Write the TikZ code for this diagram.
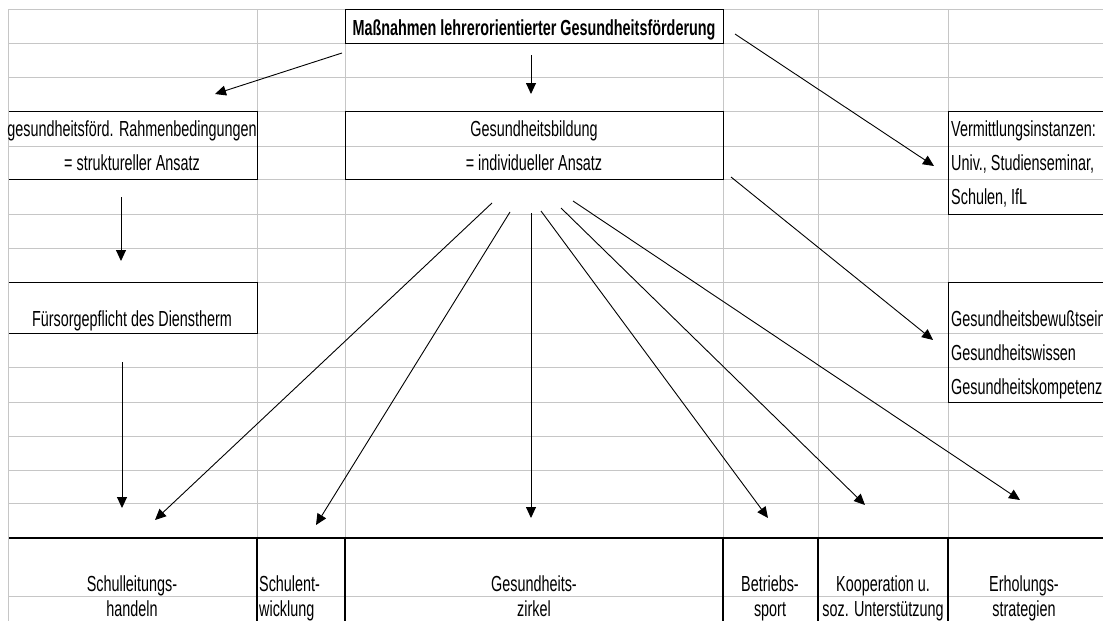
\documentclass[tikz,border=0pt]{standalone}
\usepackage{fontspec}
\setmainfont{Liberation Sans}[FakeStretch=0.66]
\usetikzlibrary{arrows.meta}
\begin{document}
\begin{tikzpicture}[x=1pt,y=-1pt,
  grid/.style={draw=gray!45, line width=0.8pt},
  boxnode/.style={draw=black, line width=1.1pt, inner sep=0pt, anchor=north west},
  txt/.style={inner sep=0pt, anchor=base, font=\fontsize{21.8}{24}\selectfont},
  ltxt/.style={txt, anchor=base west},
  conn/.style={draw=black, line width=0.9pt, -{Triangle[length=11pt,width=10pt]}},
  cellline/.style={draw=black, line width=1.1pt},
]
\clip (0,0) rectangle (1103,621);
\fill[white] (0,0) rectangle (1103,621);
% spreadsheet grid
\foreach \y in {9,43,77,111,146,179,214,248,282,333,367,402,436,470,503,538,596}
  \draw[grid] (8,\y) -- (1103,\y);
\foreach \x in {257,345,723,818,948}
  \draw[grid] (\x,9) -- (\x,621);
% boxes
\node[boxnode, minimum width=378, minimum height=34] (title) at (345,9) {};
\node[boxnode, minimum width=249, minimum height=68] (rahmen) at (8,111) {};
\node[boxnode, minimum width=378, minimum height=68] (bildung) at (345,111) {};
\node[boxnode, minimum width=170, minimum height=103] (vermittl) at (948,111) {};
\node[boxnode, minimum width=249, minimum height=51] (fuersorge) at (8,282) {};
\node[boxnode, minimum width=170, minimum height=120] (kompet) at (948,282) {};
% bottom cells
\draw[black, line width=1.6pt] (8,538) -- (1103,538);
\foreach \x in {257,345,723,818,948}
  \draw[cellline] (\x,538) -- (\x,625);
\draw[grid] (8,9) -- (8,621);
% texts
\node[txt, font=\fontsize{21.8}{24}\selectfont\bfseries] (titletext) at (534,35) {Maßnahmen lehrerorientierter Gesundheitsförderung};
\node[txt] (rahmen1) at (132,136) {gesundheitsförd. Rahmenbedingungen};
\node[txt] (rahmen2) at (132,170) {= struktureller Ansatz};
\node[txt] (bildung1) at (534,136) {Gesundheitsbildung};
\node[txt] (bildung2) at (534,170) {= individueller Ansatz};
\node[ltxt] (verm1) at (951,136) {Vermittlungsinstanzen:};
\node[ltxt] (verm2) at (951,170) {Univ., Studienseminar,};
\node[ltxt] (verm3) at (951,204) {Schulen, IfL};
\node[txt] (fuers) at (132,326) {Fürsorgepflicht des Dienstherm};
\node[ltxt] (komp1) at (951,326) {Gesundheitsbewußtsein};
\node[ltxt] (komp2) at (951,360) {Gesundheitswissen};
\node[ltxt] (komp3) at (951,394) {Gesundheitskompetenz};
\node[txt] (sl1) at (132,591) {Schulleitungs-};
\node[txt] (sl2) at (132,616) {handeln};
\node[ltxt] (se1) at (259,591) {Schulent-};
\node[ltxt] (se2) at (259,616) {wicklung};
\node[txt] (gz1) at (534,591) {Gesundheits-};
\node[txt] (gz2) at (534,616) {zirkel};
\node[txt] (bs1) at (770,591) {Betriebs-};
\node[txt] (bs2) at (770,616) {sport};
\node[txt] (ko1) at (883,591) {Kooperation u.};
\node[txt] (ko2) at (883,616) {soz. Unterstützung};
\node[txt] (er1) at (1024,591) {Erholungs-};
\node[txt] (er2) at (1024,616) {strategien};
% connector end points
\coordinate (title-l) at (342,53);
\coordinate (title-d) at (531,55);
\coordinate (title-r) at (735,34);
\coordinate (rahmen-in) at (215,94);
\coordinate (bildung-in) at (531,94);
\coordinate (vermittl-in) at (934,166);
\coordinate (bildung-r) at (731,177);
\coordinate (kompet-in) at (933,340);
\coordinate (rahmen-out) at (121,197);
\coordinate (fuersorge-in) at (121,261);
\coordinate (fuersorge-out) at (122,362);
\coordinate (sl-in1) at (122,508);
\coordinate (b1) at (492,203);
\coordinate (b2) at (510,212);
\coordinate (b3) at (531,213);
\coordinate (b4) at (541,211);
\coordinate (b5) at (561,208);
\coordinate (b6) at (573,201);
\coordinate (sl-in2) at (155,520);
\coordinate (se-in) at (316,525);
\coordinate (gz-in) at (531,518);
\coordinate (bs-in) at (768,518);
\coordinate (ko-in) at (865,505);
\coordinate (er-in) at (1020,500);
% connectors
\draw[conn] (title-l) -- (rahmen-in);
\draw[conn] (title-d) -- (bildung-in);
\draw[conn] (title-r) -- (vermittl-in);
\draw[conn] (bildung-r) -- (kompet-in);
\draw[conn] (rahmen-out) -- (fuersorge-in);
\draw[conn] (fuersorge-out) -- (sl-in1);
\draw[conn] (b1) -- (sl-in2);
\draw[conn] (b2) -- (se-in);
\draw[conn] (b3) -- (gz-in);
\draw[conn] (b4) -- (bs-in);
\draw[conn] (b5) -- (ko-in);
\draw[conn] (b6) -- (er-in);
\end{tikzpicture}
\end{document}
